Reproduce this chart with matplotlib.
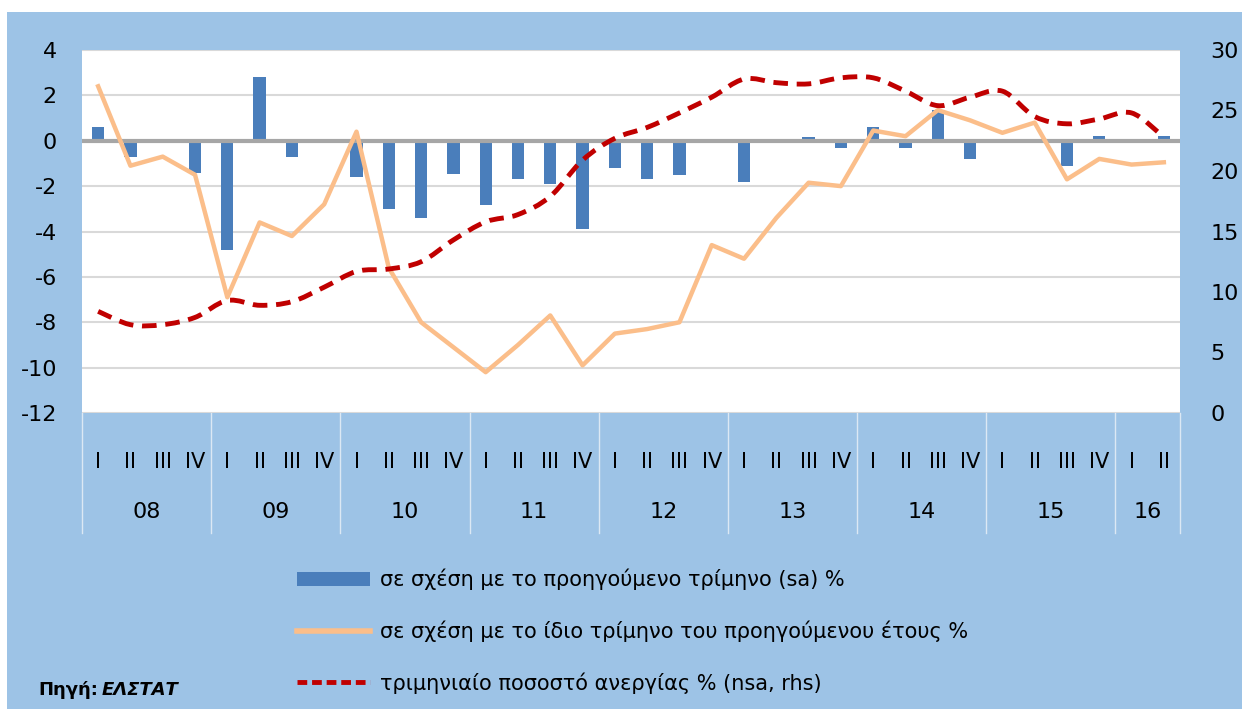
import matplotlib
matplotlib.use('Agg')
import matplotlib.pyplot as plt
import numpy as np
from matplotlib.path import Path
from matplotlib.patches import PathPatch, Rectangle
from matplotlib.lines import Line2D

plt.rcParams['font.family'] = ['DejaVu Sans']
plt.rcParams['axes.unicode_minus'] = False

# Δεδομένα (2008 Q1 - 2016 Q2)
quarters = ['I', 'II', 'III', 'IV'] * 8 + ['I', 'II']
years = ['08', '09', '10', '11', '12', '13', '14', '15', '16']

# μεταβολή σε σχέση με το προηγούμενο τρίμηνο (sa) %
qoq = [0.6, -0.7, -0.1, -1.4, -4.8, 2.8, -0.7, 0.0,
       -1.6, -3.0, -3.4, -1.45, -2.85, -1.7, -1.9, -3.9,
       -1.2, -1.7, -1.5, -0.05, -1.8, 0.0, 0.15, -0.3,
       0.6, -0.3, 1.35, -0.8, 0.0, 0.05, -1.1, 0.2,
       -0.05, 0.2]

# μεταβολή σε σχέση με το ίδιο τρίμηνο του προηγούμενου έτους %
yoy = [2.4, -1.1, -0.7, -1.5, -6.9, -3.6, -4.2, -2.8,
       0.4, -5.6, -8.0, -9.1, -10.2, -9.0, -7.7, -9.9,
       -8.5, -8.3, -8.0, -4.6, -5.2, -3.4, -1.85, -2.0,
       0.45, 0.2, 1.35, 0.9, 0.35, 0.8, -1.7, -0.8,
       -1.05, -0.95]

# τριμηνιαίο ποσοστό ανεργίας % (nsa, rhs)
unemp = [8.4, 7.3, 7.3, 7.9, 9.3, 8.9, 9.2, 10.4,
         11.7, 11.9, 12.5, 14.3, 15.8, 16.4, 17.9, 20.9,
         22.7, 23.6, 24.8, 26.1, 27.6, 27.3, 27.2, 27.7,
         27.7, 26.6, 25.4, 26.1, 26.6, 24.5, 23.9, 24.3,
         24.8, 22.8]

BG = '#9DC3E6'
BAR = '#4A7EBB'
ORANGE = '#FBBE8A'
RED = '#C00000'

x = np.arange(len(qoq))

fig = plt.figure(figsize=(12.42, 7.09), dpi=100, facecolor=BG)
# λευκά περιθώρια της εικόνας
fig.patches.append(Rectangle((0, 1 - 12 / 709), 1, 12 / 709, transform=fig.transFigure,
                             facecolor='white', edgecolor='none', zorder=-1))
fig.patches.append(Rectangle((0, 0), 7 / 1242, 1, transform=fig.transFigure,
                             facecolor='white', edgecolor='none', zorder=-1))

ax = fig.add_axes([82 / 1242, 1 - 413 / 709, 1098 / 1242, 363 / 709])
ax.set_facecolor('white')
for s in ax.spines.values():
    s.set_visible(False)

ax.set_ylim(-12, 4)
ax.set_xlim(-0.5, len(qoq) - 0.5)
ax.set_yticks(np.arange(-12, 5, 2))
ax.grid(axis='y', color='#D9D9D9', linewidth=1.5)
ax.set_axisbelow(True)

ax.bar(x, qoq, width=0.38, color=BAR, zorder=2)
ax.axhline(0, color='#A6A6A6', linewidth=3, zorder=3)
ax.plot(x, yoy, color=ORANGE, linewidth=3.2, zorder=4)

ax.set_xticks(x)
ax.set_xticklabels(quarters)
ax.tick_params(axis='x', length=0, pad=28, labelsize=15)
ax.tick_params(axis='y', length=0, pad=18, labelsize=16)

# ετικέτες ετών και διαχωριστικά
for i, yr in enumerate(years):
    start = i * 4 - 0.5
    end = min(start + 4, len(qoq) - 0.5)
    ax.text((start + end) / 2, -0.273, yr, transform=ax.get_xaxis_transform(),
            ha='center', va='center', fontsize=16)
seps = list(np.arange(-0.5, len(qoq), 4)) + [len(qoq) - 0.5]
for s in seps:
    ax.plot([s, s], [0, -0.33], transform=ax.get_xaxis_transform(),
            color='#DCE8F4', linewidth=1, clip_on=False)

# δεξιός άξονας: ανεργία (ομαλή καμπύλη όπως στο Excel)
ax2 = ax.twinx()
for s in ax2.spines.values():
    s.set_visible(False)
ax2.set_ylim(0, 30)
ax2.set_yticks(np.arange(0, 31, 5))
ax2.tick_params(axis='y', length=0, pad=22, labelsize=16)

pts = np.column_stack([x, unemp]).astype(float)
verts = [pts[0]]
codes = [Path.MOVETO]
n = len(pts)
for i in range(n - 1):
    p0 = pts[max(i - 1, 0)]
    p1 = pts[i]
    p2 = pts[i + 1]
    p3 = pts[min(i + 2, n - 1)]
    c1 = p1 + (p2 - p0) / 6
    c2 = p2 - (p3 - p1) / 6
    verts += [c1, c2, p2]
    codes += [Path.CURVE4] * 3
ax2.add_patch(PathPatch(Path(verts, codes), facecolor='none', edgecolor=RED,
                        linewidth=3.5, linestyle=(0, (3, 1.8)), capstyle='butt', zorder=5))

# υπόμνημα
handles = [
    Rectangle((0, 0), 1, 1, facecolor=BAR, edgecolor='none'),
    Line2D([], [], color=ORANGE, linewidth=4),
    Line2D([], [], color=RED, linewidth=3.5, linestyle=(0, (2, 1))),
]
labels = [
    'σε σχέση με το προηγούμενο τρίμηνο (sa) %',
    'σε σχέση με το ίδιο τρίμηνο του προηγούμενου έτους %',
    'τριμηνιαίο ποσοστό ανεργίας % (nsa, rhs)',
]
fig.legend(handles, labels, loc='upper left', bbox_to_anchor=(278 / 1242, 1 - 550 / 709),
           frameon=False, fontsize=15, handlelength=3.5, handleheight=0.7,
           labelspacing=1.45, handletextpad=0.5)

# πηγή
src = fig.text(38 / 1242, 1 - 690 / 709, 'Πηγή:', fontsize=13, fontweight='bold', va='center')
fig.canvas.draw()
bb = src.get_window_extent()
fig.text((bb.x1 + 4) / 1242, 1 - 690 / 709, 'ΕΛΣΤΑΤ', fontsize=13, fontweight='bold',
         fontstyle='italic', va='center')

fig.savefig('out.png', dpi=100, facecolor=BG)
